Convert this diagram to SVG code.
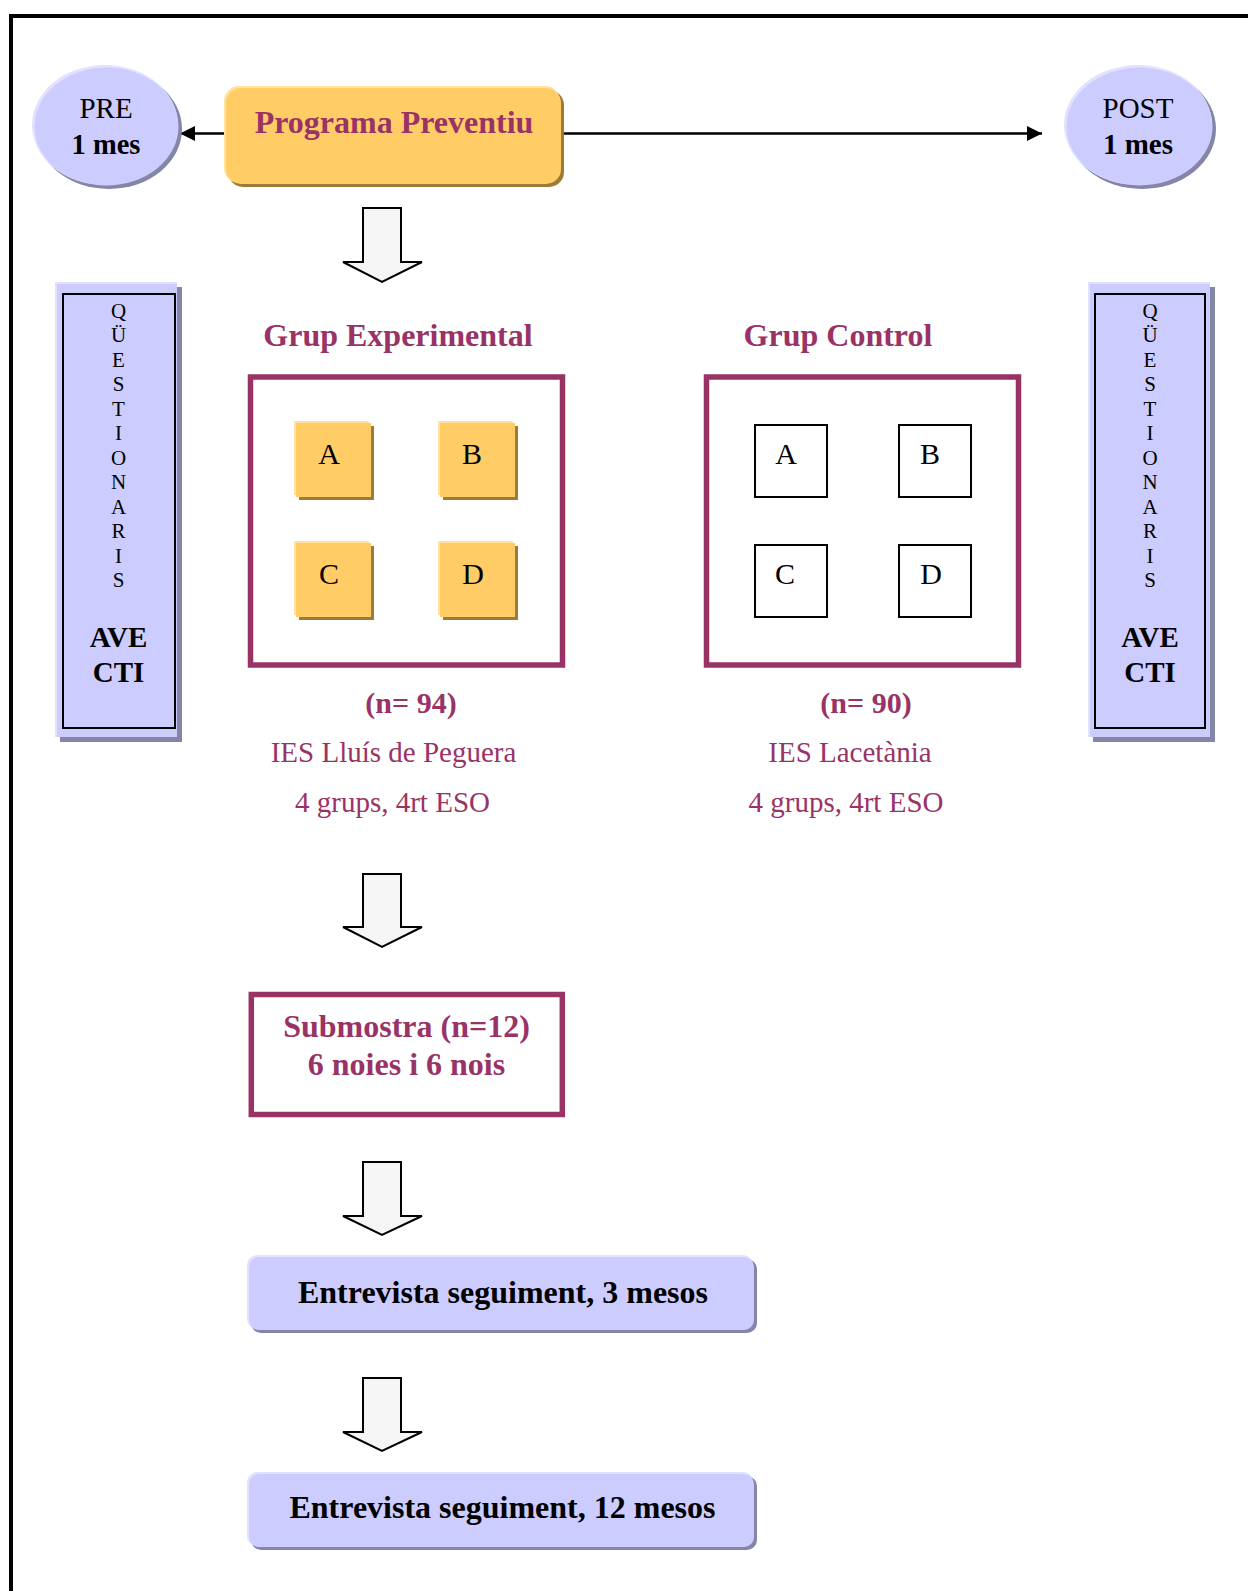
<svg xmlns="http://www.w3.org/2000/svg" width="1248" height="1591" viewBox="0 0 1248 1591">
<defs>
<style>
.t{font-family:"Liberation Serif","Times New Roman",serif;text-anchor:middle}
.b{font-weight:bold}
.m{fill:#993366}
.k{fill:#000}
.lav{fill:#ccccff}
.lavhi{fill:#e2e2ff}
.lavsh{fill:#8585a8}
.org{fill:#ffcc66}
.orghi{fill:#ffe29e}
.orgsh{fill:#9c7a38}
.frame{fill:none;stroke:#993366;stroke-width:5.5}
.blk{fill:#f5f5f5;stroke:#000;stroke-width:2;stroke-linejoin:miter}
.sq{fill:#fff;stroke:#000;stroke-width:2}
.ln{stroke:#000;stroke-width:2.5;fill:none}
</style>
<marker id="ah" viewBox="0 0 10 10" refX="10" refY="5" markerWidth="15" markerHeight="15" markerUnits="userSpaceOnUse" orient="auto">
<path d="M0,0 L10,5 L0,10 z" fill="#000"/>
</marker>
</defs>
<rect x="0" y="0" width="1248" height="1591" fill="#fff"/>
<rect x="11" y="16" width="1300" height="1650" fill="none" stroke="#000" stroke-width="4"/>

<g id="connectors">
<line class="ln" x1="225" y1="133.5" x2="180" y2="133.5" marker-end="url(#ah)"/>
<line class="ln" x1="563" y1="133.5" x2="1042" y2="133.5" marker-end="url(#ah)"/>
<polygon class="blk" points="363,208 401,208 401,262 422,262 382,282 343,262 363,262"/>
<polygon class="blk" points="363,874 401,874 401,927 422,927 382,947 343,927 363,927"/>
<polygon class="blk" points="363,1162 401,1162 401,1216 422,1216 382,1235 343,1216 363,1216"/>
<polygon class="blk" points="363,1378 401,1378 401,1432 422,1432 382,1451 343,1432 363,1432"/>
</g>

<g id="pre">
<ellipse class="lavsh" cx="109" cy="129" rx="73" ry="60"/>
<ellipse class="lavhi" cx="105" cy="125" rx="73" ry="60"/>
<ellipse class="lav" cx="106.5" cy="126.5" rx="72" ry="59"/>
<text class="t k" x="106" y="118" font-size="29">PRE</text>
<text class="t k b" x="106" y="154" font-size="28.5">1 mes</text>
</g>

<g id="post">
<ellipse class="lavsh" cx="1142" cy="129" rx="74" ry="60"/>
<ellipse class="lavhi" cx="1138" cy="125" rx="74" ry="60"/>
<ellipse class="lav" cx="1139.5" cy="126.5" rx="73" ry="59"/>
<text class="t k" x="1138" y="118" font-size="29">POST</text>
<text class="t k b" x="1138" y="154" font-size="29">1 mes</text>
</g>

<g id="programa">
<rect class="orgsh" x="228" y="90" width="336" height="97" rx="15"/>
<rect class="orghi" x="224" y="86" width="336" height="97" rx="15"/>
<rect class="org" x="226" y="88" width="335" height="96" rx="15"/>
<text class="t m b" x="394" y="133" font-size="32">Programa Preventiu</text>
</g>

<g id="quest-left">
<rect class="lavsh" x="60" y="287" width="122" height="455"/>
<rect class="lavhi" x="55" y="282" width="122" height="455"/>
<rect class="lav" x="57" y="284" width="120" height="453"/>
<rect x="63" y="294" width="112" height="434" fill="none" stroke="#000" stroke-width="2"/>
<g class="t k" font-size="21">
<text x="118.5" y="317.5">Q</text><text x="118.5" y="342">Ü</text><text x="118.5" y="366.5">E</text><text x="118.5" y="391">S</text><text x="118.5" y="415.5">T</text><text x="118.5" y="440">I</text><text x="118.5" y="464.5">O</text><text x="118.5" y="489">N</text><text x="118.5" y="513.5">A</text><text x="118.5" y="538">R</text><text x="118.5" y="562.5">I</text><text x="118.5" y="587">S</text>
</g>
<text class="t k b" x="118.5" y="647" font-size="29">AVE</text>
<text class="t k b" x="118.5" y="682" font-size="29">CTI</text>
</g>

<g id="quest-right">
<rect class="lavsh" x="1093" y="287" width="122" height="455"/>
<rect class="lavhi" x="1088" y="282" width="122" height="455"/>
<rect class="lav" x="1090" y="284" width="120" height="453"/>
<rect x="1095" y="294" width="110" height="434" fill="none" stroke="#000" stroke-width="2"/>
<g class="t k" font-size="21">
<text x="1150" y="317.5">Q</text><text x="1150" y="342">Ü</text><text x="1150" y="366.5">E</text><text x="1150" y="391">S</text><text x="1150" y="415.5">T</text><text x="1150" y="440">I</text><text x="1150" y="464.5">O</text><text x="1150" y="489">N</text><text x="1150" y="513.5">A</text><text x="1150" y="538">R</text><text x="1150" y="562.5">I</text><text x="1150" y="587">S</text>
</g>
<text class="t k b" x="1150" y="647" font-size="29">AVE</text>
<text class="t k b" x="1150" y="682" font-size="29">CTI</text>
</g>

<g id="grup-experimental">
<text class="t m b" x="398" y="346" font-size="32">Grup Experimental</text>
<rect class="frame" x="250.5" y="377" width="312" height="288"/>
<rect class="orgsh" x="299" y="426" width="75" height="74"/>
<rect class="orghi" x="294" y="421" width="75" height="74"/>
<rect class="org" x="296" y="423" width="75" height="74"/>
<text class="t k" x="329" y="464" font-size="30">A</text>
<rect class="orgsh" x="443" y="426" width="75" height="74"/>
<rect class="orghi" x="438" y="421" width="75" height="74"/>
<rect class="org" x="440" y="423" width="75" height="74"/>
<text class="t k" x="472" y="464" font-size="30">B</text>
<rect class="orgsh" x="299" y="546" width="75" height="74"/>
<rect class="orghi" x="294" y="541" width="75" height="74"/>
<rect class="org" x="296" y="543" width="75" height="74"/>
<text class="t k" x="329" y="584" font-size="30">C</text>
<rect class="orgsh" x="443" y="546" width="75" height="74"/>
<rect class="orghi" x="438" y="541" width="75" height="74"/>
<rect class="org" x="440" y="543" width="75" height="74"/>
<text class="t k" x="473" y="584" font-size="30">D</text>
<text class="t m b" x="411" y="712.5" font-size="30">(n= 94)</text>
<text class="t m" x="393.5" y="761.5" font-size="29">IES Lluís de Peguera</text>
<text class="t m" x="392.5" y="811.5" font-size="29">4 grups, 4rt ESO</text>
</g>

<g id="grup-control">
<text class="t m b" x="838" y="346" font-size="32">Grup Control</text>
<rect class="frame" x="706.5" y="377" width="312" height="288"/>
<rect class="sq" x="755" y="425" width="72" height="72"/>
<text class="t k" x="786" y="464" font-size="30">A</text>
<rect class="sq" x="899" y="425" width="72" height="72"/>
<text class="t k" x="930" y="464" font-size="30">B</text>
<rect class="sq" x="755" y="545" width="72" height="72"/>
<text class="t k" x="785" y="584" font-size="30">C</text>
<rect class="sq" x="899" y="545" width="72" height="72"/>
<text class="t k" x="931" y="584" font-size="30">D</text>
<text class="t m b" x="866" y="712.5" font-size="30">(n= 90)</text>
<text class="t m" x="850" y="761.5" font-size="29">IES Lacetània</text>
<text class="t m" x="846" y="811.5" font-size="29">4 grups, 4rt ESO</text>
</g>

<g id="submostra">
<rect class="frame" x="251.3" y="994.5" width="311" height="120"/>
<text class="t m b" x="406.5" y="1037" font-size="32">Submostra (n=12)</text>
<text class="t m b" x="406.5" y="1074.5" font-size="32">6 noies i 6 nois</text>
</g>

<g id="entrevista-3">
<rect class="lavsh" x="251" y="1259" width="506" height="74" rx="10"/>
<rect class="lavhi" x="247" y="1255" width="506" height="74" rx="10"/>
<rect class="lav" x="249" y="1257" width="505" height="73" rx="10"/>
<text class="t k b" x="503" y="1302.5" font-size="32">Entrevista seguiment, 3 mesos</text>
</g>

<g id="entrevista-12">
<rect class="lavsh" x="251" y="1476" width="506" height="74" rx="10"/>
<rect class="lavhi" x="247" y="1472" width="506" height="74" rx="10"/>
<rect class="lav" x="249" y="1474" width="505" height="73" rx="10"/>
<text class="t k b" x="502.5" y="1518" font-size="32">Entrevista seguiment, 12 mesos</text>
</g>
</svg>
